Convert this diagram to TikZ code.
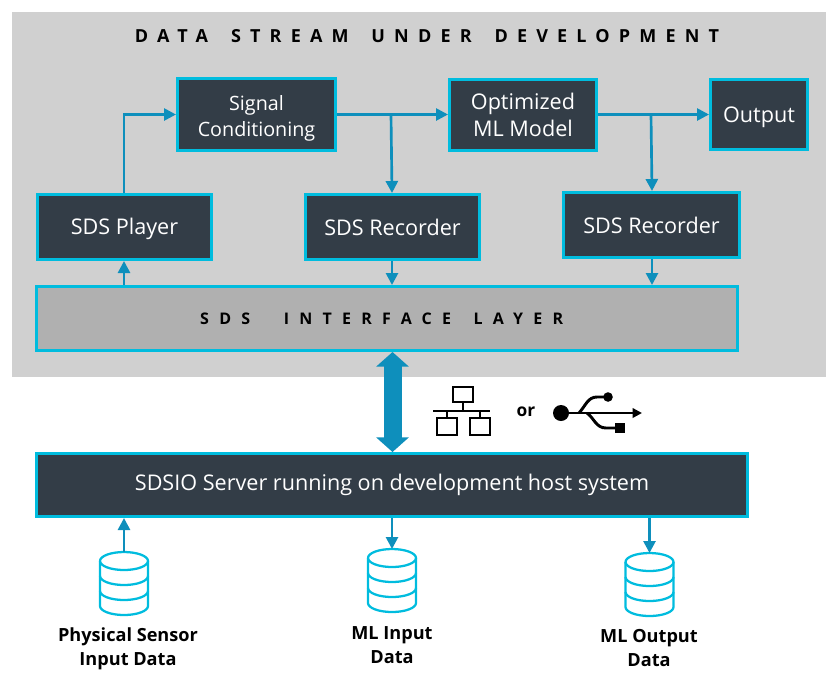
\documentclass[tikz,border=0pt]{standalone}
\usepackage{fontspec}
\setmainfont{Open Sans}
\usetikzlibrary{arrows.meta}
\definecolor{panel}{HTML}{D0D0D0}
\definecolor{layer}{HTML}{B0B0B0}
\definecolor{dark}{HTML}{333D47}
\definecolor{cyanb}{HTML}{00BCDE}
\definecolor{flow}{HTML}{0E8FBC}
\tikzset{
  x=0.75pt,y=-0.75pt,
  box/.style={draw=cyanb,line width=2.4pt,fill=dark,text=white,align=center,inner sep=0pt,
    font=\fontsize{16.2}{20}\selectfont,anchor=north west},
  link/.style={draw=flow,line width=2pt,-{Triangle[length=9pt,width=9pt]}},
  big/.style={draw=flow,line width=13.5pt,{Triangle[length=11pt,width=24pt]}-{Triangle[length=11pt,width=24pt]}},
  captext/.style={font=\fontsize{13.6}{18}\selectfont\bfseries,align=center,text=black,inner sep=0pt},
  icon/.style={draw=black,line width=2.2pt},
  db/.style={draw=cyanb,line width=1.7pt}
}
\newcommand{\mkbox}[6]{\node[box,minimum width=#4*0.75pt-#2*0.75pt-2.4pt,minimum height=#5*0.75pt-#3*0.75pt-2.4pt] (#1) at (#2,#3) {#6};}
\newcommand{\dbcyl}[3]{%
  \begin{scope}[shift={(#2,#3)}]
    \coordinate (#1) at (0,0);
    \draw[db] (-24,9) arc[start angle=180,end angle=540,x radius=24,y radius=9];
    \draw[db] (-24,9) -- (-24,54) arc[start angle=180,end angle=0,x radius=24,y radius=9] -- (24,9);
    \draw[db] (-24,24) arc[start angle=180,end angle=0,x radius=24,y radius=9];
    \draw[db] (-24,39) arc[start angle=180,end angle=0,x radius=24,y radius=9];
  \end{scope}}
\begin{document}
\begin{tikzpicture}
\useasboundingbox (0,0) rectangle (837,683);
\fill[panel] (12,12) rectangle (826,377);
\node[inner sep=0pt,font=\fontsize{13.5}{16}\selectfont\bfseries\addfontfeature{LetterSpace=51}] (title) at (427,36) {DATA\hspace{0.5em} STREAM\hspace{0.5em} UNDER\hspace{0.5em} DEVELOPMENT};
\mkbox{sig}{176}{77}{337}{152}{\fontsize{14.8}{20}\selectfont\rule{0pt}{17pt}Signal\\\fontsize{14.8}{20}\selectfont Conditioning}
\mkbox{opt}{448}{78}{598}{152}{Optimized\\ML Model}
\mkbox{out}{709}{78}{809}{151}{\rule{0pt}{15.6pt}Output}
\mkbox{play}{36}{193}{213}{261}{\rule{0pt}{15.6pt}SDS Player}
\mkbox{rec1}{304}{193}{481}{261}{SDS Recorder}
\mkbox{rec2}{562}{191}{741}{259}{SDS Recorder}
\mkbox{srv}{35}{452}{749}{518}{SDSIO Server running on development host system}
\node[box,fill=layer,text=black,minimum width=704*0.75pt-2.4pt,minimum height=67*0.75pt-2.4pt,font=\fontsize{12}{16}\selectfont\bfseries\addfontfeature{LetterSpace=64}] (sil) at (35,285) {SDS\hspace{1.2em} INTERFACE\hspace{0.5em} LAYER\hspace*{8pt}};
% flow
\coordinate (j1) at (391,114.5);
\coordinate (j2) at (651,114.5);
\draw[link] (play.north -| 124,195) -- (124,114.5) -- (sig.west |- 0,114.5);
\draw[link] (sig.east |- 0,114.5) -- (opt.west |- 0,114.5);
\draw[link] (j1) -- (rec1.north -| 392,195);
\draw[link] (opt.east |- 0,114.5) -- (out.west |- 0,114.5);
\draw[link] (j2) -- (rec2.north -| 652,193);
\draw[link] (rec1.south -| 392,260) -- (sil.north -| 392,287);
\draw[link] (rec2.south -| 652,258) -- (sil.north -| 652,287);
\draw[link] (sil.north -| 124,287) -- (play.south -| 124,260);
\draw[big] (sil.south -| 392.5,351) -- (srv.north -| 392.5,453);
% network icon
\draw[icon] (453,387) rectangle (473,402);
\draw[icon] (463,402) -- (463,411);
\draw[icon] (433,411) -- (490,411);
\draw[icon] (447,411) -- (447,418);
\draw[icon] (480,411) -- (480,418);
\draw[icon] (437,418) rectangle (457,435);
\draw[icon] (470,418) rectangle (490,435);
\node[font=\fontsize{13}{16}\selectfont\bfseries,inner sep=0pt] (ortxt) at (526,412) {or};
% usb icon
\fill[black] (561,413) circle (8);
\draw[icon,-{Triangle[length=7pt,width=7pt]}] (561,413) -- (642,413);
\draw[icon] (579,413) .. controls (586,405) and (588,397) .. (597,397) -- (608,397);
\fill[black] (608,397) circle (4.8);
\draw[icon] (587,413) .. controls (594,418) and (596,428) .. (606,428) -- (618,428);
\fill[black] (615,423) rectangle (625,433);
% stores
\dbcyl{d1}{124}{552}
\dbcyl{d2}{392}{549}
\dbcyl{d3}{649.5}{553}
\draw[link] (d1) -- (srv.south -| 124,515);
\draw[link] (srv.south -| 392,515) -- (d2);
\draw[link] (srv.south -| 649.5,515) -- (d3);
\node[captext] (c1) at (128,649) {Physical Sensor\\Input Data};
\node[captext] (c2) at (392,645) {ML Input\\Data};
\node[captext] (c3) at (649,648) {ML Output\\Data};
\end{tikzpicture}
\end{document}
